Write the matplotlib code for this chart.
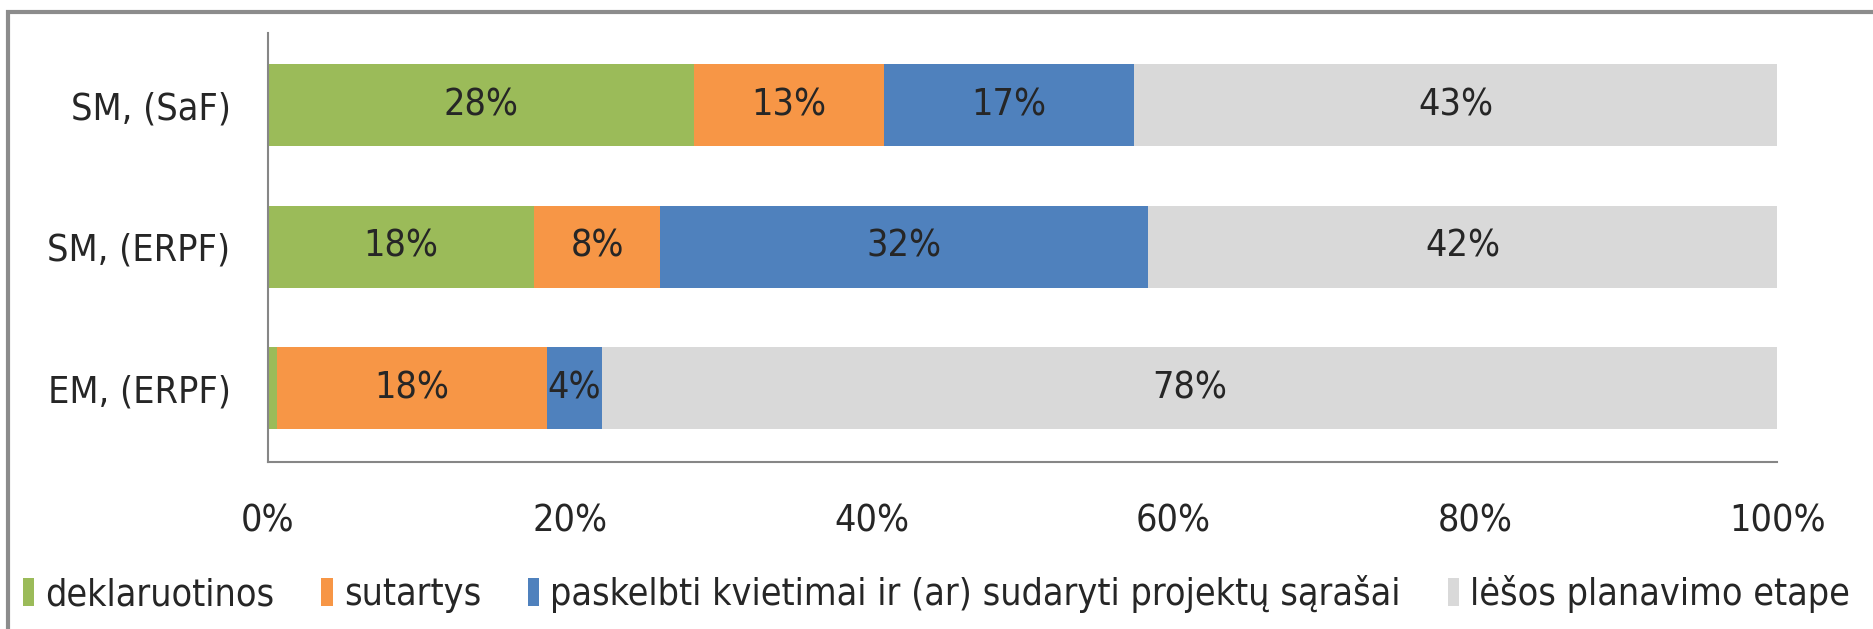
import matplotlib
matplotlib.use("Agg")
import matplotlib.pyplot as plt
from matplotlib.patches import Rectangle
from matplotlib.ticker import PercentFormatter
import numpy as np


categories = ["SM, (SaF)", "SM, (ERPF)", "EM, (ERPF)"]
series_names = [
    "deklaruotinos",
    "sutartys",
    "paskelbti kvietimai ir (ar) sudaryti projektų sąrašai",
    "lėšos planavimo etape",
]
deklaruotinos = [28.2, 17.6, 0.6]
sutartys = [12.6, 8.4, 17.9]
paskelbti = [16.6, 32.3, 3.6]
planavimo = [42.6, 41.7, 77.9]
colors = ["#9BBB59", "#F79646", "#4F81BD", "#D9D9D9"]
x_ticks = [0, 20, 40, 60, 80, 100]

plt.rcParams.update({
    "font.family": ["DejaVu Sans"],
    "font.stretch": "condensed",
    "font.size": 27,
    "text.color": "#262626",
})

fig = plt.figure(figsize=(18.73, 6.29), dpi=100)
ax = fig.add_axes([0.1431, 0.2655, 0.8057, 0.682])

y = np.arange(len(categories))
left = np.zeros(len(categories))
for name, vals, col in zip(series_names,
                           [deklaruotinos, sutartys, paskelbti, planavimo],
                           colors):
    vals = np.array(vals)
    bars = ax.barh(y, vals, left=left, height=0.58, color=col, label=name)
    for b, v, l in zip(bars, vals, left):
        if v >= 2:
            ax.text(l + v / 2, b.get_y() + b.get_height() / 2,
                    f"{v:.0f}%", ha="center", va="center",
                    fontsize=27, color="#262626")
    left += vals

ax.set_xlim(0, 100)
ax.set_ylim(2.52, -0.51)
ax.set_yticks(y)
ax.set_yticklabels(categories)
ax.set_xticks(x_ticks)
ax.xaxis.set_major_formatter(PercentFormatter(decimals=0))
ax.tick_params(axis="x", length=0, pad=30, labelsize=27, colors="#262626")
ax.tick_params(axis="y", length=0, pad=27, labelsize=27, colors="#262626")
for s in ["top", "right"]:
    ax.spines[s].set_visible(False)
for s in ["left", "bottom"]:
    ax.spines[s].set_color("#868686")
    ax.spines[s].set_linewidth(1.5)

fig.legend(loc="center", bbox_to_anchor=(0.5, 0.0556), ncol=4,
           frameon=False, fontsize=27, handlelength=0.3, handleheight=0.8,
           handletextpad=0.3, columnspacing=1.25)

# chart border (cropped on right and bottom)
fig.patches.append(Rectangle((8 / 1873, -0.1), 1.2, 1.1 - 12 / 629,
                             transform=fig.transFigure, fill=False,
                             edgecolor="#8C8C8C", linewidth=3))

fig.savefig("out.png", dpi=100)
